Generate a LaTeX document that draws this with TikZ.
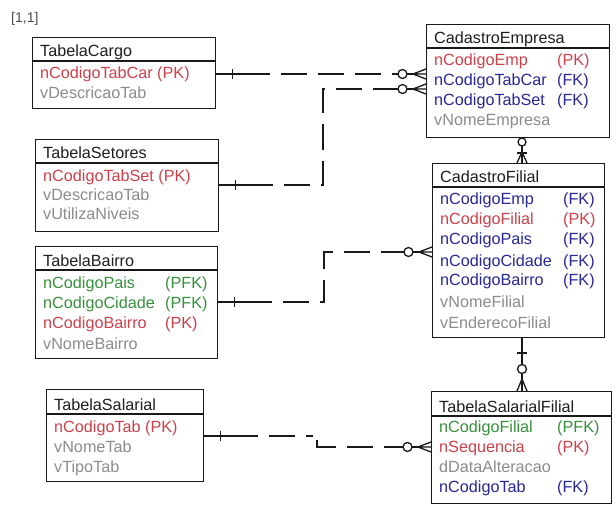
\documentclass[tikz,border=0pt]{standalone}
\usepackage{fontspec}
\setmainfont{Liberation Sans}
\definecolor{pkred}{RGB}{205,65,75}
\definecolor{fkblue}{RGB}{40,40,150}
\definecolor{pfkgreen}{RGB}{55,145,60}
\definecolor{attgrey}{RGB}{140,140,140}
\definecolor{hdrtxt}{RGB}{30,30,30}
\definecolor{edge}{RGB}{25,25,25}
\newcommand\fsz{\fontsize{16.2}{18}\selectfont}
\tikzset{
  ent/.style={draw=edge, line width=1.3pt, anchor=north west, inner sep=0pt, fill=white},
  sepln/.style={draw=edge, line width=1.1pt},
  txt/.style={anchor=base west, inner sep=0pt, font=\fsz},
  hdr/.style={txt, text=hdrtxt},
  pk/.style={txt, text=pkred},
  fk/.style={txt, text=fkblue},
  pfk/.style={txt, text=pfkgreen},
  att/.style={txt, text=attgrey},
  solidln/.style={draw=edge, line width=1.3pt},
  dashln/.style={draw=edge, line width=1.3pt, dash pattern=on 26pt off 11pt},
  manyend/.pic={
    \draw[solidln] (-13,0) -- (0,-5) (-13,0) -- (0,0) (-13,0) -- (0,5);
    \draw[solidln] (-19,0) -- (-13,0);
    \draw[solidln, fill=white] (-23.5,0) circle (4.5pt);
  },
  oneend/.pic={
    \draw[solidln] (0,0) -- (28,0);
    \draw[solidln] (16,-5) -- (16,5);
  }
}
\begin{document}
\begin{tikzpicture}[x=1pt,y=-1pt]
\useasboundingbox[fill=white] (0,0) rectangle (616,505);

\node[txt, text=hdrtxt!80, font=\fontsize{14}{16}\selectfont] (lbl) at (11,23) {[1,1]};

% ---------- TabelaCargo
\node[ent, minimum width=183pt, minimum height=71pt] (cargo) at (32,37) {};
\draw[sepln] ([yshift=-24pt]cargo.north west) -- ([yshift=-24pt]cargo.north east);
\node[hdr] (cargoH) at (40,57) {TabelaCargo};
\node[pk]  (cargo1) at (40,79) {nCodigoTabCar (PK)};
\node[att] (cargo2) at (40,99) {vDescricaoTab};

% ---------- TabelaSetores
\node[ent, minimum width=183pt, minimum height=92pt] (set) at (35,139) {};
\draw[sepln] ([yshift=-24pt]set.north west) -- ([yshift=-24pt]set.north east);
\node[hdr] (setH) at (43,159) {TabelaSetores};
\node[pk]  (set1) at (43,182) {nCodigoTabSet (PK)};
\node[att] (set2) at (43,201) {vDescricaoTab};
\node[att] (set3) at (43,220) {vUtilizaNiveis};

% ---------- TabelaBairro
\node[ent, minimum width=182pt, minimum height=112pt] (bai) at (35,246) {};
\draw[sepln] ([yshift=-24pt]bai.north west) -- ([yshift=-24pt]bai.north east);
\node[hdr] (baiH) at (43,266) {TabelaBairro};
\node[pfk] (bai1) at (43,288) {nCodigoPais};
\node[pfk] (bai1k) at (165,288) {(PFK)};
\node[pfk] (bai2) at (43,308) {nCodigoCidade};
\node[pfk] (bai2k) at (165,308) {(PFK)};
\node[pk]  (bai3) at (43,328) {nCodigoBairro};
\node[pk]  (bai3k) at (165,328) {(PK)};
\node[att] (bai4) at (43,349) {vNomeBairro};

% ---------- TabelaSalarial
\node[ent, minimum width=157pt, minimum height=92pt] (sal) at (46,389) {};
\draw[sepln] ([yshift=-25pt]sal.north west) -- ([yshift=-25pt]sal.north east);
\node[hdr] (salH) at (54,410) {TabelaSalarial};
\node[pk]  (sal1) at (54,432) {nCodigoTab (PK)};
\node[att] (sal2) at (54,452) {vNomeTab};
\node[att] (sal3) at (54,472) {vTipoTab};

% ---------- CadastroEmpresa
\node[ent, minimum width=183pt, minimum height=113pt] (emp) at (426,24) {};
\draw[sepln] ([yshift=-24pt]emp.north west) -- ([yshift=-24pt]emp.north east);
\node[hdr] (empH) at (434,44) {CadastroEmpresa};
\node[pk]  (emp1) at (434,66) {nCodigoEmp};
\node[pk]  (emp1k) at (557,66) {(PK)};
\node[fk]  (emp2) at (434,86) {nCodigoTabCar};
\node[fk]  (emp2k) at (557,86) {(FK)};
\node[fk]  (emp3) at (434,106) {nCodigoTabSet};
\node[fk]  (emp3k) at (557,106) {(FK)};
\node[att] (emp4) at (434,126) {vNomeEmpresa};

% ---------- CadastroFilial
\node[ent, minimum width=172pt, minimum height=174pt] (fil) at (432,163) {};
\draw[sepln] ([yshift=-24pt]fil.north west) -- ([yshift=-24pt]fil.north east);
\node[hdr] (filH) at (440,183) {CadastroFilial};
\node[fk]  (fil1) at (440,205) {nCodigoEmp};
\node[fk]  (fil1k) at (563,205) {(FK)};
\node[pk]  (fil2) at (440,225) {nCodigoFilial};
\node[pk]  (fil2k) at (563,225) {(PK)};
\node[fk]  (fil3) at (440,245) {nCodigoPais};
\node[fk]  (fil3k) at (563,245) {(FK)};
\node[fk]  (fil4) at (440,266) {nCodigoCidade};
\node[fk]  (fil4k) at (563,266) {(FK)};
\node[fk]  (fil5) at (440,286) {nCodigoBairro};
\node[fk]  (fil5k) at (563,286) {(FK)};
\node[att] (fil6) at (440,307) {vNomeFilial};
\node[att] (fil7) at (440,328) {vEnderecoFilial};

% ---------- TabelaSalarialFilial
\node[ent, minimum width=180pt, minimum height=112pt] (sf) at (431,391) {};
\draw[sepln] ([yshift=-25pt]sf.north west) -- ([yshift=-25pt]sf.north east);
\node[hdr] (sfH) at (439,412) {TabelaSalarialFilial};
\node[pfk] (sf1) at (439,432) {nCodigoFilial};
\node[pfk] (sf1k) at (557,432) {(PFK)};
\node[pk]  (sf2) at (439,452) {nSequencia};
\node[pk]  (sf2k) at (557,452) {(PK)};
\node[att] (sf3) at (439,472) {dDataAlteracao};
\node[fk]  (sf4) at (439,492) {nCodigoTab};
\node[fk]  (sf4k) at (557,492) {(FK)};

% ---------- Connector 1: Cargo -> Empresa
\coordinate (c1a) at (cargo.east |- 0,74);
\coordinate (c1b) at (emp.west |- 0,74);
\pic at (c1a) {oneend};
\pic at (c1b) {manyend};
\draw[dashln] ([xshift=28pt]c1a) -- ([xshift=-28pt]c1b);

% ---------- Connector 2: Setores -> Empresa
\coordinate (c2a) at (set.east |- 0,185);
\coordinate (c2b) at (emp.west |- 0,89);
\pic at (c2a) {oneend};
\pic at (c2b) {manyend};
\draw[dashln] ([xshift=28pt]c2a) -- (323,185) -- (323,89) -- ([xshift=-28pt]c2b);

% ---------- Connector 3: Bairro -> Filial
\coordinate (c3a) at (bai.east |- 0,302);
\coordinate (c3b) at (fil.west |- 0,252);
\pic at (c3a) {oneend};
\pic at (c3b) {manyend};
\draw[dashln] ([xshift=28pt]c3a) -- (324,302) -- (324,252) -- ([xshift=-28pt]c3b);

% ---------- Connector 4: Salarial -> SalarialFilial
\coordinate (c4a) at (sal.east |- 0,436);
\coordinate (c4b) at (sf.west |- 0,447);
\pic at (c4a) {oneend};
\pic at (c4b) {manyend};
\draw[dashln] ([xshift=28pt]c4a) -- (313,436);
\draw[dashln] (317,440) -- (317,447) -- ([xshift=-28pt]c4b);

% ---------- Connector 5: Empresa -> Filial (vertical)
\coordinate (c5a) at (emp.south -| 522,0);
\coordinate (c5b) at (fil.north -| 522,0);
\draw[solidln] (c5a) -- (c5b);
\draw[solidln] (517,153) -- (527,153);
\draw[solidln] (522,152) -- (517,163) (522,152) -- (527,163);
\draw[solidln, fill=white] (522,142) circle (4pt);

% ---------- Connector 6: Filial -> SalarialFilial (vertical)
\coordinate (c6a) at (fil.south -| 522,0);
\coordinate (c6b) at (sf.north -| 522,0);
\draw[solidln] (c6a) -- (c6b);
\draw[solidln] (517,353) -- (527,353);
\draw[solidln] (522,379) -- (517,391) (522,379) -- (527,391);
\draw[solidln, fill=white] (522,369) circle (4.5pt);
\end{tikzpicture}
\end{document}
